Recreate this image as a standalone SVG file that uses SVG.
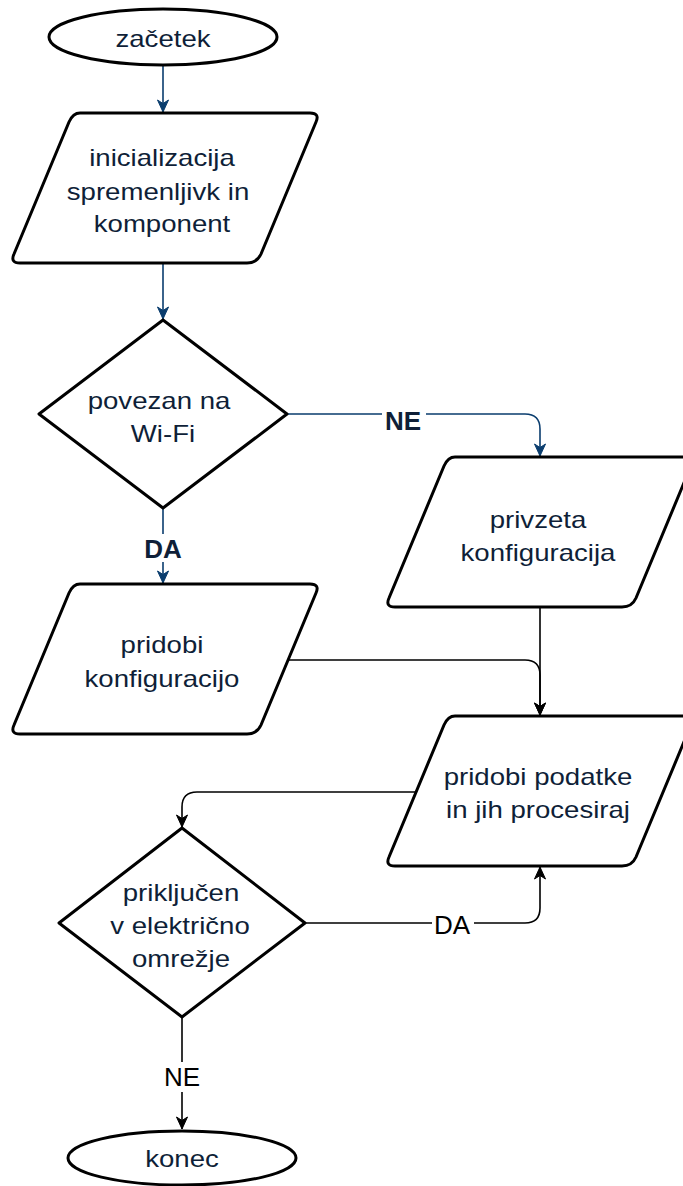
<svg xmlns="http://www.w3.org/2000/svg" width="683" height="1186" viewBox="0 0 683 1186">
<defs>
<style>
.shape{fill:#fff;stroke:#000;stroke-width:3;stroke-linejoin:round}
.t{font-family:"Liberation Sans",Arial,sans-serif;font-size:23px;fill:#0f1f38;text-anchor:middle}
.lb{font-family:"Liberation Sans",Arial,sans-serif;font-size:26px;font-weight:bold;fill:#0f1f38;text-anchor:middle}
.lp{font-family:"Liberation Sans",Arial,sans-serif;font-size:26px;fill:#000;text-anchor:middle}
.cn{fill:none;stroke:#0a3d6e;stroke-width:1.6}
.ck{fill:none;stroke:#000;stroke-width:1.6}
</style>
<marker id="an" markerUnits="userSpaceOnUse" markerWidth="14" markerHeight="14" viewBox="0 0 14 14" refX="13" refY="7" orient="auto">
<path d="M1,1.5 L13,7 L1,12.5 L4.5,7 Z" fill="#0a3d6e" stroke="#0a3d6e" stroke-width="1"/>
</marker>
<marker id="ab" markerUnits="userSpaceOnUse" markerWidth="14" markerHeight="14" viewBox="0 0 14 14" refX="13" refY="7" orient="auto">
<path d="M1,1.5 L13,7 L1,12.5 L4.5,7 Z" fill="#000" stroke="#000" stroke-width="1"/>
</marker>
</defs>
<rect width="683" height="1186" fill="#fff"/>

<g id="connectors">
<path class="cn" d="M163,66 V112" marker-end="url(#an)"/>
<path class="cn" d="M163,264 V319" marker-end="url(#an)"/>
<path class="cn" d="M287,414 H525 Q540,414 540,429 V456" marker-end="url(#an)"/>
<path class="cn" d="M163,508 V583" marker-end="url(#an)"/>
<path class="ck" d="M285,660 H525 Q540,660 540,675 V715" marker-end="url(#ab)"/>
<path class="ck" d="M540,608 V715" marker-end="url(#ab)"/>
<path class="ck" d="M416,792 H197 Q182,792 182,807 V827" marker-end="url(#ab)"/>
<path class="ck" d="M305,923 H525 Q540,923 540,908 V867" marker-end="url(#ab)"/>
<path class="ck" d="M182,1017 V1129" marker-end="url(#ab)"/>
<rect x="382" y="404" width="44" height="28" fill="#fff"/>
<text class="lb" x="403" y="430">NE</text>
<rect x="141" y="534" width="44" height="28" fill="#fff"/>
<text class="lb" x="163" y="558">DA</text>
<rect x="432" y="908" width="42" height="30" fill="#fff"/>
<text class="lp" x="452" y="934">DA</text>
<rect x="160" y="1062" width="44" height="30" fill="#fff"/>
<text class="lp" x="182" y="1086">NE</text>
</g>

<g id="start">
<ellipse class="shape" cx="163" cy="37" rx="114" ry="28"/>
<text class="t" transform="matrix(1.2 0 0 1 163 47)">začetek</text>
</g>

<g id="init">
<path class="shape" d="M80,113 H310 Q320,113 316,122 L261,254 Q257,263 247,263 H20 Q10,263 14,254 L69,122 Q73,113 80,113 Z"/>
<text class="t" transform="matrix(1.2 0 0 1 162 166)">inicializacija</text>
<text class="t" transform="matrix(1.2 0 0 1 158 200)">spremenljivk in</text>
<text class="t" transform="matrix(1.2 0 0 1 162 232)">komponent</text>
</g>

<g id="wifi">
<polygon class="shape" points="163,320 287,414 163,508 39,414"/>
<text class="t" transform="matrix(1.2 0 0 1 159 409)">povezan na</text>
<text class="t" transform="matrix(1.2 0 0 1 163 442)">Wi-Fi</text>
</g>

<g id="default-config">
<path class="shape" d="M455,457 H685 Q695,457 691,466 L636,598 Q632,607 622,607 H395 Q385,607 389,598 L444,466 Q448,457 455,457 Z"/>
<text class="t" transform="matrix(1.2 0 0 1 538 528)">privzeta</text>
<text class="t" transform="matrix(1.2 0 0 1 538 561)">konfiguracija</text>
</g>

<g id="get-config">
<path class="shape" d="M80,584 H310 Q320,584 316,593 L261,725 Q257,734 247,734 H20 Q10,734 14,725 L69,593 Q73,584 80,584 Z"/>
<text class="t" transform="matrix(1.2 0 0 1 162 653)">pridobi</text>
<text class="t" transform="matrix(1.2 0 0 1 162 687)">konfiguracijo</text>
</g>

<g id="process">
<path class="shape" d="M455,716 H685 Q695,716 691,725 L636,857 Q632,866 622,866 H395 Q385,866 389,857 L444,725 Q448,716 455,716 Z"/>
<text class="t" transform="matrix(1.2 0 0 1 538 785)">pridobi podatke</text>
<text class="t" transform="matrix(1.2 0 0 1 538 818)">in jih procesiraj</text>
</g>

<g id="power">
<polygon class="shape" points="182,828 305,923 182,1017 59,923"/>
<text class="t" transform="matrix(1.2 0 0 1 181 901)">priključen</text>
<text class="t" transform="matrix(1.2 0 0 1 180 934)">v električno</text>
<text class="t" transform="matrix(1.2 0 0 1 181 967)">omrežje</text>
</g>

<g id="end">
<ellipse class="shape" cx="182" cy="1158" rx="114" ry="27"/>
<text class="t" transform="matrix(1.2 0 0 1 182 1167)">konec</text>
</g>
</svg>
